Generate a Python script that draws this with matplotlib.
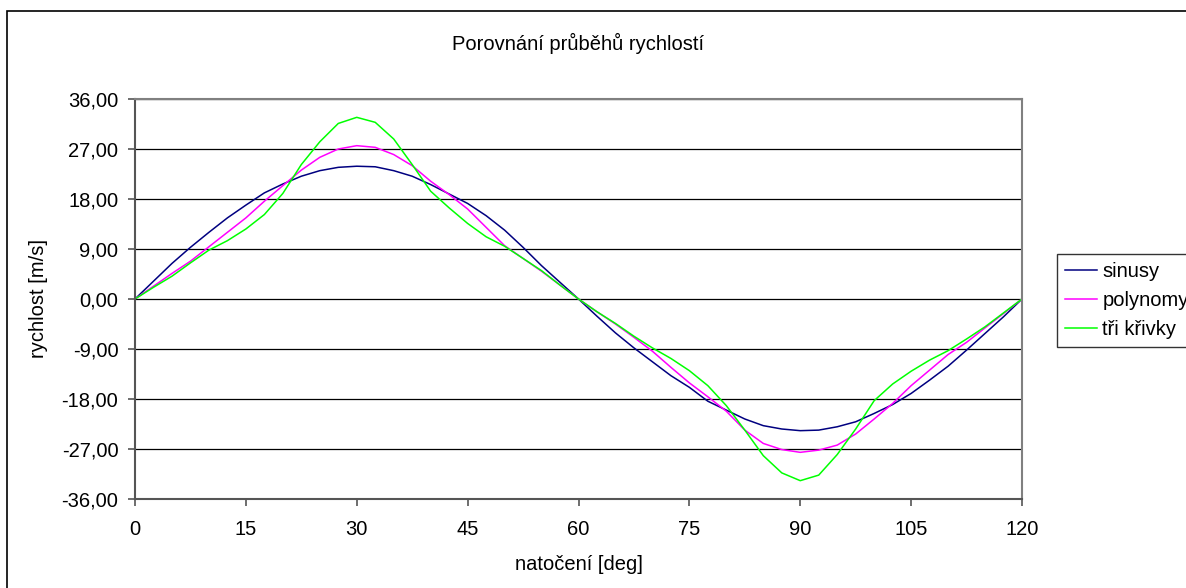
import matplotlib
matplotlib.use("Agg")
import matplotlib.pyplot as plt
from matplotlib.patches import Rectangle
from matplotlib.ticker import FuncFormatter

# --- data (step 2.5 deg) ---
natoceni = [0, 2.5, 5, 7.5, 10, 12.5, 15, 17.5, 20, 22.5, 25, 27.5, 30,
            32.5, 35, 37.5, 40, 42.5, 45, 47.5, 50, 52.5, 55, 57.5, 60,
            62.5, 65, 67.5, 70, 72.5, 75, 77.5, 80, 82.5, 85, 87.5, 90,
            92.5, 95, 97.5, 100, 102.5, 105, 107.5, 110, 112.5, 115, 117.5, 120]

sinusy = [0, 3.2, 6.4, 9.3, 12.0, 14.6, 16.9, 19.1, 20.7, 22.1, 23.1, 23.7, 23.9,
          23.8, 23.1, 22.1, 20.6, 18.9, 17.2, 15.0, 12.4, 9.3, 6.0, 3.0, 0,
          -3.1, -6.1, -8.8, -11.3, -13.8, -15.9, -18.4, -20.0, -21.6, -22.8, -23.4, -23.7,
          -23.6, -23.0, -22.1, -20.6, -19.0, -17.0, -14.6, -12.1, -9.2, -6.2, -3.2, 0]

polynomy = [0, 2.3, 4.6, 6.8, 9.4, 12.0, 14.6, 17.6, 20.4, 23.2, 25.5, 27.0, 27.6,
            27.3, 26.0, 24.0, 21.2, 18.8, 16.2, 12.9, 9.6, 7.3, 5.0, 2.5, 0,
            -2.3, -4.5, -6.9, -9.4, -12.3, -15.1, -17.6, -20.2, -23.6, -26.0, -27.1, -27.6,
            -27.2, -26.3, -24.3, -21.6, -18.8, -15.6, -12.8, -10.0, -7.8, -5.2, -2.6, 0]

tri_krivky = [0, 2.1, 4.1, 6.5, 8.8, 10.5, 12.6, 15.2, 19.0, 24.2, 28.3, 31.6, 32.7,
              31.8, 28.8, 24.2, 19.4, 16.4, 13.6, 11.2, 9.5, 7.3, 5.1, 2.5, 0,
              -2.3, -4.4, -6.7, -8.8, -10.7, -12.9, -15.6, -19.2, -23.6, -28.2, -31.3, -32.7,
              -31.7, -28.0, -23.4, -18.3, -15.3, -13.0, -11.0, -9.3, -7.2, -5.0, -2.5, 0]

x_ticks = [0, 15, 30, 45, 60, 75, 90, 105, 120]
y_ticks = [-36, -27, -18, -9, 0, 9, 18, 27, 36]

plt.rcParams['font.family'] = ['Liberation Sans', 'DejaVu Sans']
FS = 14.5

W, H = 1186, 588
fig = plt.figure(figsize=(W / 100, H / 100), dpi=100)
ax = fig.add_axes([135 / W, 1 - 499 / H, (1022 - 135) / W, (499 - 99) / H])

# outer chart border (runs off the right and bottom edges)
fig.patches.append(Rectangle((7 / W, -0.2), 1.5, 1.2 - 11 / H, transform=fig.transFigure,
                             fill=False, edgecolor='black', linewidth=1.2))

ax.plot(natoceni, sinusy, color='#000080', linewidth=1.1, label='sinusy')
ax.plot(natoceni, polynomy, color='#FF00FF', linewidth=1.1, label='polynomy')
ax.plot(natoceni, tri_krivky, color='#00FF00', linewidth=1.1, label='tři křivky')

ax.set_xlim(0, 120)
ax.set_ylim(-36, 36)
ax.set_xticks(x_ticks)
ax.set_yticks(y_ticks)
ax.yaxis.set_major_formatter(FuncFormatter(lambda v, p: f"{v:.2f}".replace('.', ',')))
ax.grid(axis='y', color='black', linewidth=0.9)
ax.set_axisbelow(True)

for s in ['top', 'right']:
    ax.spines[s].set_color('#808080')
    ax.spines[s].set_linewidth(1.5)
for s in ['left', 'bottom']:
    ax.spines[s].set_color('#555555')
    ax.spines[s].set_linewidth(1.5)

ax.tick_params(axis='both', direction='out', length=5, width=1.2, color='#555555',
               labelsize=FS, pad=7)
ax.tick_params(axis='x', pad=10)

ax.set_title("Porovnání průběhů rychlostí", fontsize=FS, pad=35)
ax.set_xlabel("natočení [deg]", fontsize=FS, labelpad=12)
ax.set_ylabel("rychlost [m/s]", fontsize=FS, labelpad=10)

leg = ax.legend(loc='upper left', bbox_to_anchor=(1057 / W, 1 - 254 / H),
                bbox_transform=fig.transFigure, fontsize=FS, frameon=True,
                fancybox=False, edgecolor='black', handlelength=1.6,
                handletextpad=0.25, borderpad=0.4, labelspacing=0.5,
                borderaxespad=0)
leg.get_frame().set_linewidth(1.0)

fig.savefig('out.png', dpi=100)
